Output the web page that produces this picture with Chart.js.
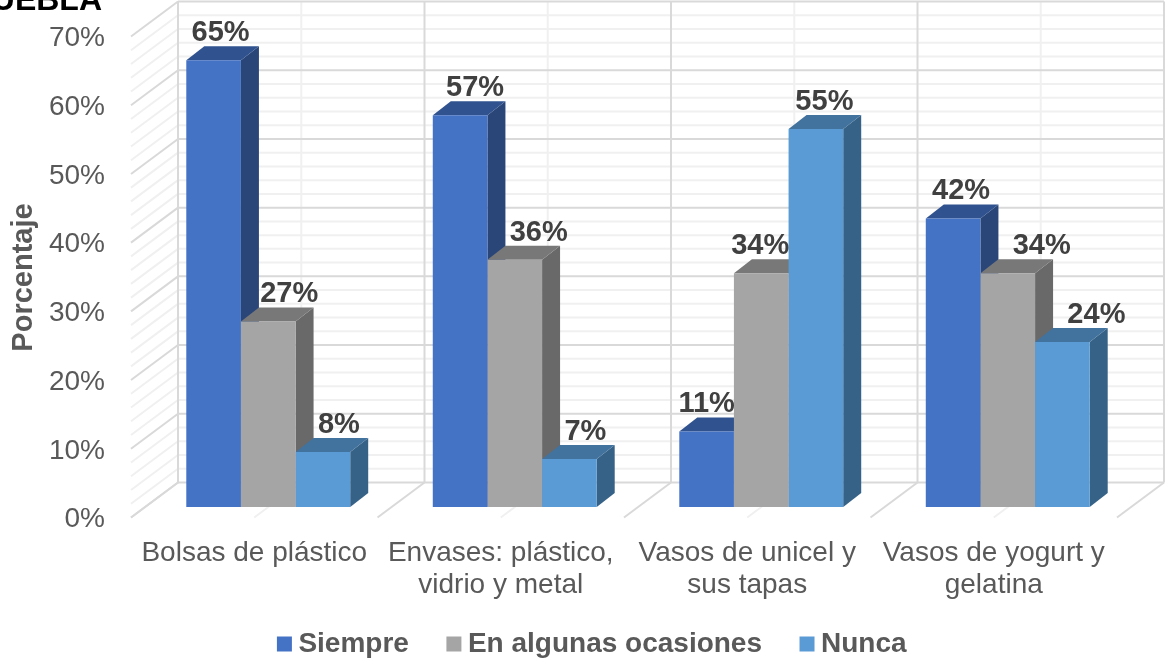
<!DOCTYPE html>
<html lang="es">
<head>
<meta charset="utf-8">
<style>
  html, body { margin: 0; padding: 0; background: #fff; }
  canvas { display: block; }
</style>
<script src="https://cdn.jsdelivr.net/npm/chart.js@4"></script>
</head>
<body>
<canvas id="grafica" width="1165" height="660"></canvas>
<script>
// Datos del gráfico
const categorias = ['Bolsas de plástico', ['Envases: plástico,', 'vidrio y metal'], ['Vasos de unicel y', 'sus tapas'], ['Vasos de yogurt y', 'gelatina']];
const siempre = [65, 57, 11, 42];
const enAlgunasOcasiones = [27, 36, 34, 34];
const nunca = [8, 7, 55, 24];
const nombresSeries = ['Siempre', 'En algunas ocasiones', 'Nunca'];
const tituloCortado = 'UEBLA';
const tituloEje = 'Porcentaje';

// Colores de cada serie: frente, lateral y cara superior
const frente = ['#4472C4', '#A5A5A5', '#5B9BD5'];
const lateral = ['#2A4679', '#696969', '#376287'];
const superior = ['#30538F', '#787878', '#42729E'];

// Desplazamiento horizontal de cada etiqueta de valor respecto al centro de su barra
const ajusteEtiquetas = [
  [7, 15, 0, 8],
  [21, 24, -1, 34],
  [16, 16, 8.5, 34]
];

// Profundidad de las barras y del plano de la pared y del suelo
const fondoBarraX = 18, fondoBarraY = 14;
const paredX = 33, paredY = 24.5;
const bordeX = -14, bordeY = 10.5;

const fuente = 'Liberation Sans, Arial, sans-serif';
const lineaFuerte = '#D9D9D9', lineaSuave = '#F0F0F0';

function linea(ctx, x0, y0, x1, y1, color) {
  ctx.strokeStyle = color;
  ctx.lineWidth = 2;
  ctx.beginPath();
  ctx.moveTo(x0, y0);
  ctx.lineTo(x1, y1);
  ctx.stroke();
}

function poligono(ctx, puntos, color) {
  ctx.fillStyle = color;
  ctx.beginPath();
  puntos.forEach((p, i) => i ? ctx.lineTo(p[0], p[1]) : ctx.moveTo(p[0], p[1]));
  ctx.closePath();
  ctx.fill();
}

// Paredes, suelo y caras laterales de la perspectiva
const escena3D = {
  id: 'escena3D',
  afterLayout(chart) {
    // la leyenda baja y se centra sobre el hueco libre; el eje x deja sitio a las etiquetas de dos líneas
    chart.legend.left += 30;
    chart.legend.right += 30;
    chart.legend.top += 8;
    chart.legend.bottom += 8;
    chart.scales.x.bottom = chart.scales.x.top + 100;
  },
  beforeDatasetsDraw(chart) {
    const { ctx, scales: { x, y } } = chart;
    const ancho = (x.right - x.left) / categorias.length;
    const izquierda = x.left + paredX;
    const derecha = x.right + paredX;
    ctx.save();
    // primero las líneas suaves, encima las principales
    [false, true].forEach(principal => {
      const color = principal ? lineaFuerte : lineaSuave;
      for (let v = 0; v <= 70; v += 2) {
        if ((v % 10 === 0) !== principal) continue;
        const py = y.getPixelForValue(v);
        linea(ctx, x.left + bordeX, py + bordeY, izquierda, py - paredY, color);
        linea(ctx, izquierda, py - paredY, derecha, py - paredY, color);
      }
      for (let i = 0; i <= categorias.length * 2; i++) {
        if ((i % 2 === 0) !== principal) continue;
        const off = i * ancho / 2;
        const techo = y.getPixelForValue(70) - paredY;
        const suelo = y.getPixelForValue(0) - paredY;
        linea(ctx, izquierda + off, techo, izquierda + off, suelo, color);
        linea(ctx, izquierda + off, suelo, x.left + bordeX + off, y.getPixelForValue(0) + bordeY, color);
      }
    });
    // laterales y tapas, de izquierda a derecha para respetar el solape
    for (let c = 0; c < categorias.length; c++) {
      chart.data.datasets.forEach((ds, s) => {
        const b = chart.getDatasetMeta(s).data[c];
        const x0 = b.x - b.width / 2, x1 = b.x + b.width / 2;
        poligono(ctx, [[x1, b.y], [x1 + fondoBarraX, b.y - fondoBarraY], [x1 + fondoBarraX, b.base - fondoBarraY], [x1, b.base]], lateral[s]);
        poligono(ctx, [[x0, b.y], [x1, b.y], [x1 + fondoBarraX, b.y - fondoBarraY], [x0 + fondoBarraX, b.y - fondoBarraY]], superior[s]);
      });
    }
    ctx.restore();
  },
  afterDatasetsDraw(chart) {
    const { ctx } = chart;
    ctx.save();
    // etiquetas de valor sobre cada barra
    ctx.font = 'bold 29px ' + fuente;
    ctx.fillStyle = '#404040';
    ctx.textAlign = 'center';
    ctx.textBaseline = 'middle';
    chart.data.datasets.forEach((ds, s) => {
      chart.getDatasetMeta(s).data.forEach((b, c) => {
        ctx.fillText(ds.data[c] + '%', b.x + ajusteEtiquetas[s][c], b.y - fondoBarraY - 13);
      });
    });
    // título del eje vertical
    ctx.save();
    ctx.translate(24, 277.5);
    ctx.rotate(-Math.PI / 2);
    ctx.font = 'bold 29px ' + fuente;
    ctx.fillStyle = '#595959';
    ctx.fillText(tituloEje, 0, 0);
    ctx.restore();
    // resto del título, recortado por el borde
    ctx.font = 'bold 32px ' + fuente;
    ctx.fillStyle = '#000';
    ctx.textAlign = 'right';
    ctx.textBaseline = 'alphabetic';
    ctx.fillText(tituloCortado, 102, 10);
    ctx.restore();
  }
};

new Chart(document.getElementById('grafica'), {
  type: 'bar',
  data: {
    labels: categorias,
    datasets: [siempre, enAlgunasOcasiones, nunca].map((valores, s) => ({
      label: nombresSeries[s],
      data: valores,
      backgroundColor: frente[s],
      borderWidth: 0,
      categoryPercentage: 0.665,
      barPercentage: 1
    }))
  },
  plugins: [escena3D],
  options: {
    responsive: false,
    animation: false,
    layout: { padding: { left: 0, right: 34, top: 26, bottom: 0 } },
    plugins: {
      title: { display: false },
      tooltip: { enabled: false },
      legend: {
        position: 'bottom',
        labels: {
          usePointStyle: true,
          pointStyle: 'rect',
          boxWidth: 0.01,
          boxHeight: 15,
          padding: 45,
          color: '#595959',
          font: { family: fuente, size: 28, weight: 'bold' }
        }
      }
    },
    scales: {
      x: {
        grid: { display: false },
        border: { display: false },
        afterFit(escala) { escala.height = 70; },
        ticks: {
          color: '#595959',
          autoSkip: false,
          maxRotation: 0,
          padding: 23,
          labelOffset: -14,
          font: { family: fuente, size: 28, lineHeight: 1.12 }
        }
      },
      y: {
        min: 0,
        max: 70,
        grid: { display: false },
        border: { display: false },
        afterFit(escala) {
          escala.width = 145;
          escala.paddingTop = 0;
          escala.paddingBottom = 0;
        },
        ticks: {
          stepSize: 10,
          color: '#595959',
          padding: 32,
          labelOffset: 12.5,
          font: { family: fuente, size: 28 },
          callback: v => v + '%'
        }
      }
    }
  }
});
</script>
</body>
</html>
